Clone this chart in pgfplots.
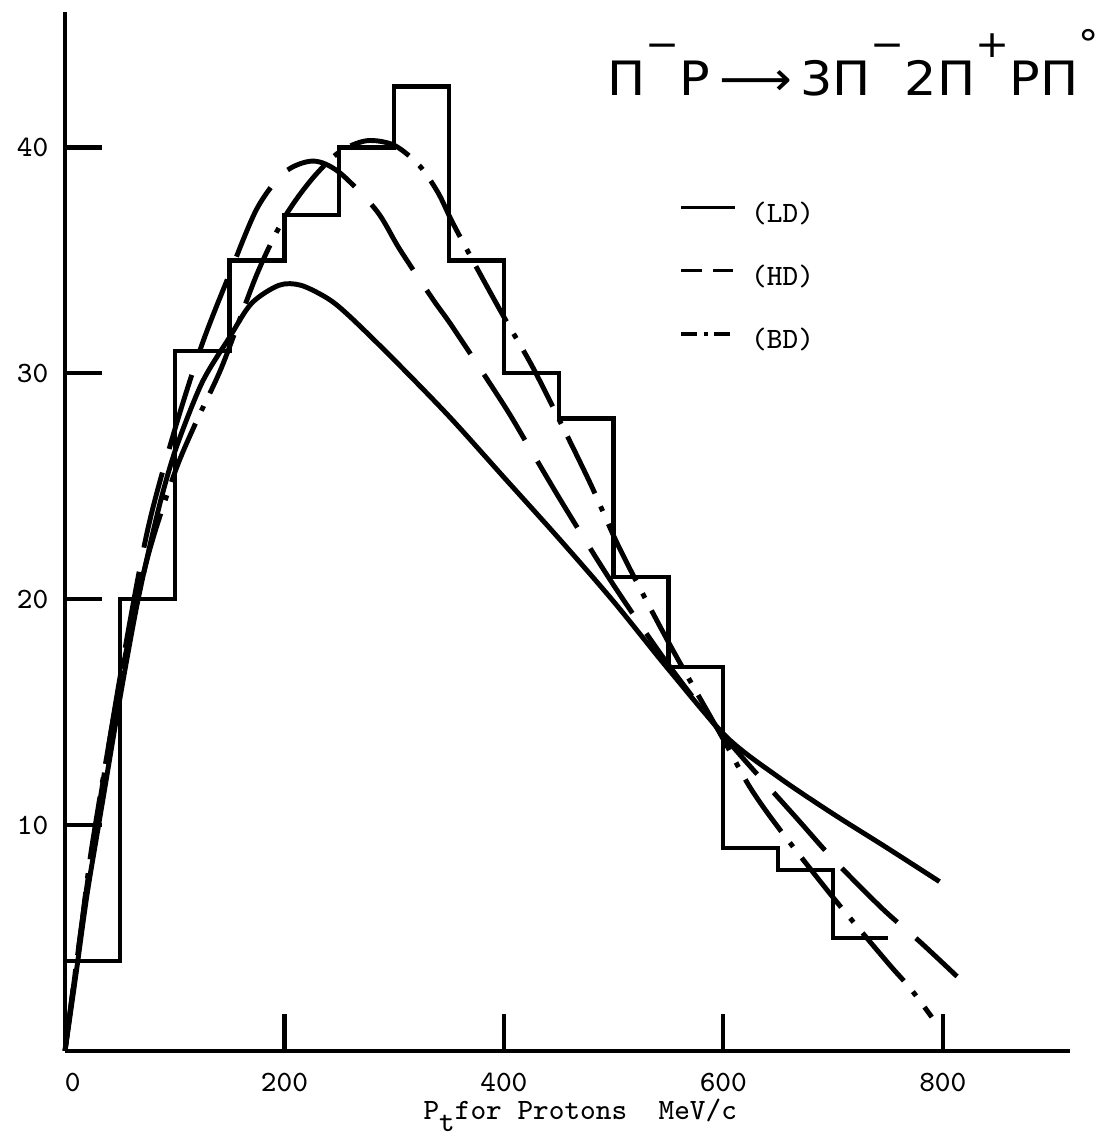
\documentclass[border=0pt]{standalone}
\usepackage{fontspec}
\usepackage{graphicx}
\usepackage{pgfplots}
\pgfplotsset{compat=1.18}

% hand-lettered reaction title and typewriter-style text
\newfontfamily\ttl{DejaVu Sans}
\newcommand\tw{\ttfamily\fontsize{8.4}{10}\selectfont}
\newcommand\sps[1]{\raisebox{0.80em}{\footnotesize #1}}

% histogram of the proton transverse momentum (50 MeV/c bins, left edges)
\pgfplotstableread{
x    n
0    4
50   20
100  31
150  35
200  37
250  40
300  42.7
350  35
400  30
450  28
500  21
550  17
600  9
650  8
700  5
750  5
}\histdata

\begin{document}
\begin{tikzpicture}
\path[use as bounding box] (-0.65,-0.84) rectangle (10.41,10.51);
\begin{axis}[
  at={(0,0)}, anchor=south west,
  scale only axis, width=10.05cm, height=10.39cm,
  xmin=0, xmax=916, ymin=0, ymax=46,
  axis x line=bottom, axis y line=left,
  axis line style={-, line width=1.3pt},
  xtick={0,200,400,600,800},
  xticklabels={\rlap{0},200,400,600,800},
  ytick={10,20,30,40},
  tick align=inside, major tick length=0.37cm,
  tick style={line width=1.2pt, black},
  /pgf/number format/assume math mode=true,
  ticklabel style={font=\tw},
  xticklabel style={anchor=base, yshift=-0.40cm},
  yticklabel style={anchor=east, inner sep=0pt, xshift=-0.16cm},
  xlabel={P\raisebox{-0.42em}{t}for Protons\ \ MeV/c},
  xlabel style={at={(axis description cs:0.356,0)}, anchor=base west,
                yshift=-0.68cm, inner sep=0pt, font=\tw},
  clip=false,
  legend style={at={(axis cs:550,37.95)}, anchor=north west, draw=none,
                fill=none, font=\tw, row sep=0.35cm, column sep=0.14cm,
                nodes={inner sep=0pt, text height=6pt, text depth=2pt}},
  legend cell align=left,
  legend image code/.code={\draw[#1] (0cm,0.08cm) -- (0.54cm,0.08cm);},
]

% measured distribution
\addplot[const plot mark left, line width=1.2pt, black, forget plot]
  table[x=x, y=n] {\histdata};

% LD
\addplot[smooth, line width=1.4pt, black, forget plot] coordinates {
 (0,0) (10,3.4) (20,6.9) (32,10.4) (50,15.6) (65,19.6) (77,22.3) (89,24.7)
 (102,26.8) (125,29.6) (150,31.6) (170,33.1) (195,33.9) (215,33.9)
 (240,33.3) (260,32.5) (300,30.6) (350,28.1) (400,25.4) (450,22.7)
 (500,19.9) (550,16.9) (603,13.9) (651,12.1) (700,10.5) (749,9.0) (797,7.5)
};

% HD
\addplot[smooth, line width=1.4pt, black, dash pattern=on 22pt off 7pt,
         forget plot] coordinates {
 (0,0) (10,3.7) (20,7.3) (30,10.5) (50,16.5) (75,23) (100,27.5) (125,31.3)
 (150,34.4) (175,37.3) (200,38.9) (226,39.4) (250,38.9) (284,37.2)
 (305,35.5) (335,33.3) (354,32.0) (400,28.6) (421,26.9) (454,24.2)
 (499,20.7) (550,17.1) (603,13.8) (667,10.3) (700,8.5) (745,6.3)
 (780,4.8) (813,3.3)
};

% BD
\addplot[smooth, line width=1.4pt, black,
         dash pattern=on 18pt off 4pt on 1.5pt off 4pt,
         forget plot] coordinates {
 (0,0) (8,3) (15,5.5) (25,9.2) (50,16.3) (75,21.8) (100,25.6) (120,27.9)
 (143,30.3) (175,34.4) (200,36.9) (225,38.6) (250,39.8) (275,40.3)
 (300,40.1) (323,39.2) (340,38.0) (353,36.7) (375,34.7) (400,32.5)
 (426,30.3) (454,27.6) (480,25.0) (506,22.2) (550,18.1) (600,13.8)
 (624,11.7) (650,9.9) (700,6.8) (750,3.9) (770,2.8) (790,1.5)
};

% key
\addlegendimage{line width=1pt, black}
\addlegendentry{(LD)}
\addlegendimage{line width=1pt, black, dash pattern=on 5.7pt off 3.4pt}
\addlegendentry{(HD)}
\addlegendimage{line width=1pt, black, dash pattern=on 4.5pt off 1.8pt on 1.2pt off 1.8pt}
\addlegendentry{(BD)}

% reaction channel
\node[anchor=base west, inner sep=0pt] at (axis cs:494,42.3)
  {\resizebox{4.91cm}{0.66cm}{\ttl Π\sps{−}P\,⟶\,3Π\sps{−}2Π\sps{+}PΠ\sps{°}}};
\end{axis}
\end{tikzpicture}
\end{document}
